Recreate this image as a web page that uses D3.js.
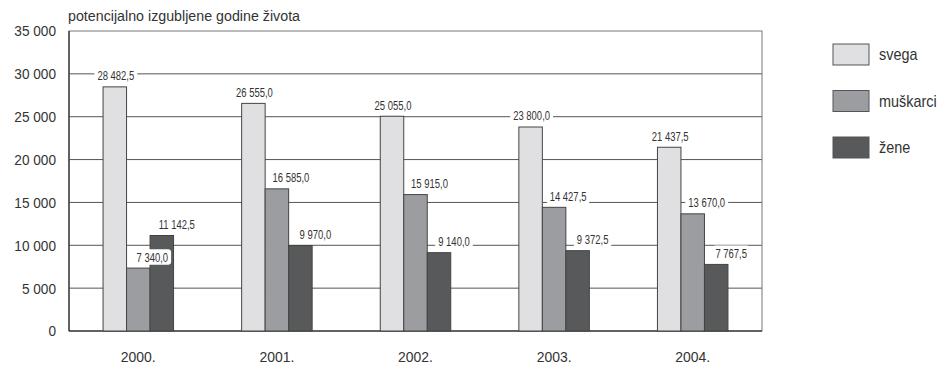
<!DOCTYPE html>
<html><head><meta charset="utf-8">
<script src="https://cdn.jsdelivr.net/npm/d3@7"></script>
<style>body{margin:0;background:#fff}svg{display:block}text{font-family:"Liberation Sans",Arial,sans-serif;fill:#333}</style>
</head><body><svg id="c" width="939" height="368"></svg>
<script>
const categories = ["2000.","2001.","2002.","2003.","2004."];
const seriesNames = ["svega","muškarci","žene"];
const svega = [28482.5, 26555.0, 25055.0, 23800.0, 21437.5];
const muskarci = [7340.0, 16585.0, 15915.0, 14427.5, 13670.0];
const zene = [11142.5, 9970.0, 9140.0, 9372.5, 7767.5];
const yTicks = [0,5000,10000,15000,20000,25000,30000,35000];
const seriesValues = [svega, muskarci, zene];
const colors = ["#e0e0e2","#9c9da1","#58595b"];
const labelDx = [1, 14, 15];

const svg = d3.select("#c");
const L=69, R=762, T=31, B=331;
const x = d3.scaleBand().domain(categories).range([L,R]);
const y = d3.scaleLinear().domain([0,35000]).range([B,T]);
const barW = 23.5;
const fmt = v => { const s = v.toFixed(1).split("."); return s[0].replace(/\B(?=(\d{3})+(?!\d))/g," ")+","+s[1]; };
const tfmt = v => v===0?"0":String(v).replace(/\B(?=(\d{3})+(?!\d))/g," ");

function ctext(parent, tx, ty, str, size, sx, anchor, dy){
  return parent.append("text")
    .attr("transform",`translate(${tx},${ty}) scale(${sx},1)`)
    .attr("dy",dy||null).attr("text-anchor",anchor||"start")
    .attr("font-size",size).text(str);
}

svg.append("g").selectAll("line").data(yTicks.filter(t=>t>0&&t<35000)).join("line")
  .attr("x1",L).attr("x2",R).attr("y1",d=>y(d)).attr("y2",d=>y(d))
  .attr("stroke","#555").attr("stroke-width",1);
svg.append("rect").attr("x",L).attr("y",T).attr("width",R-L).attr("height",B-T)
  .attr("fill","none").attr("stroke","#777").attr("stroke-width",1);
svg.append("line").attr("x1",L).attr("x2",L).attr("y1",T).attr("y2",B).attr("stroke","#444").attr("stroke-width",1.5);
svg.append("line").attr("x1",L).attr("x2",R).attr("y1",B).attr("y2",B).attr("stroke","#444").attr("stroke-width",1.5);

const gy = svg.append("g");
yTicks.forEach(t=>ctext(gy, L-13, y(t), tfmt(t), 15.5, 0.88, "end", "0.35em"));

const gBars = svg.append("g");
seriesValues.forEach((vals,si)=>{
  gBars.selectAll(null).data(vals).join("rect")
    .attr("x",(d,i)=>x(categories[i])+x.bandwidth()/2-1.5*barW+si*barW)
    .attr("y",d=>y(d)).attr("width",barW).attr("height",d=>B-y(d))
    .attr("fill",colors[si]).attr("stroke","#444").attr("stroke-width",1);
});
const gLab = svg.append("g");
seriesValues.forEach((vals,si)=>{
  vals.forEach((v,i)=>{
    const cx = x(categories[i])+x.bandwidth()/2-1.5*barW+(si+0.5)*barW+labelDx[si];
    const cy = y(v)-11;
    const g = gLab.append("g");
    const sx = 0.74;
    const t = ctext(g, cx, cy, fmt(v), 12.8, sx, "middle", "0.35em");
    const bb = t.node().getBBox();
    const w = bb.width*sx;
    g.insert("rect","text").attr("x",cx-w/2-3).attr("y",cy+bb.y-1).attr("width",w+6).attr("height",bb.height+2)
      .attr("rx",3).attr("fill","#fff");
  });
});
const gx = svg.append("g");
categories.forEach(c=>ctext(gx, x(c)+x.bandwidth()/2, 362, c, 15.5, 0.9, "middle"));
ctext(svg, 68, 21, "potencijalno izgubljene godine života", 15.5, 0.92, "start");
const lg = svg.append("g");
seriesNames.forEach((n,i)=>{
  const yy = 44 + i*46.5;
  lg.append("rect").attr("x",833).attr("y",yy).attr("width",36).attr("height",21)
    .attr("fill",colors[i]).attr("stroke","#555").attr("stroke-width",1);
  ctext(lg, 879, yy+10.5, n, 16, 0.9, "start", "0.35em");
});
</script></body></html>
